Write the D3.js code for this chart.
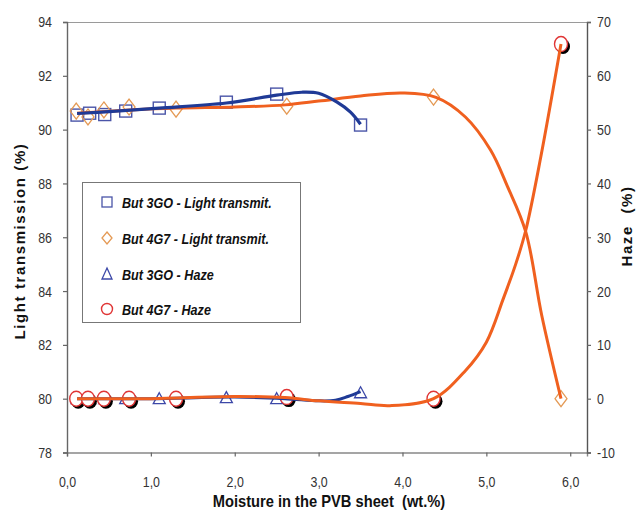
<!DOCTYPE html>
<html><head><meta charset="utf-8">
<script src="https://cdn.jsdelivr.net/npm/d3@7"></script>
<style>
html,body{margin:0;padding:0;background:#fff;}
svg{display:block;}
</style></head>
<body><svg id="c" width="637" height="515"></svg>
<script>
// ---- data ----
const moisture3GO = [0.12, 0.27, 0.45, 0.70, 1.10, 1.90, 2.50, 3.50];
const lt3GO       = [90.54, 90.61, 90.56, 90.69, 90.80, 91.02, 91.32, 90.17];
const haze3GO     = [0, 0, 0, 0, 0, 0.2, 0, 1.1];
const moisture4G7 = [0.11, 0.25, 0.44, 0.74, 1.30, 2.62, 4.37, 5.89];
const lt4G7       = [90.69, 90.47, 90.73, 90.84, 90.76, 90.87, 91.21, 80.0];
const haze4G7     = [0, 0, 0, 0, 0, 0.3, 0, 65.9];

// trend curves
const trendLt3GOx = [0.12, 0.5, 1.1, 1.9, 2.5, 2.8, 3.0, 3.22, 3.38, 3.5];
const trendLt3GOy = [90.6, 90.67, 90.8, 90.99, 91.28, 91.39, 91.35, 91.02, 90.65, 90.2];
const trendLt4G7x = [0.12, 0.7, 1.3, 2.0, 2.6, 3.0, 3.5, 4.0, 4.4, 4.75, 5.05, 5.25, 5.47, 5.66, 5.89];
const trendLt4G7y = [90.61, 90.72, 90.8, 90.84, 90.92, 91.06, 91.25, 91.36, 91.2, 90.47, 89.24, 87.9, 86.2, 83.1, 80.0];
const trendHaze3GOx = [0.12, 1.0, 2.0, 2.6, 3.0, 3.2, 3.35, 3.5];
const trendHaze3GOy = [0, 0, 0.3, 0, -0.4, -0.3, 0.4, 1.3];
const trendHaze4G7x = [0.12, 1.0, 2.0, 2.6, 3.0, 3.5, 3.85, 4.37, 4.75, 5.0, 5.2, 5.35, 5.47, 5.65, 5.89];
const trendHaze4G7y = [0, 0, 0.4, 0.2, -0.4, -0.9, -1.3, 0, 5.2, 10.5, 18.5, 25, 31.3, 45, 65.9];

const xTicks = [0, 1, 2, 3, 4, 5, 6];
const xTickLabels = ["0,0", "1,0", "2,0", "3,0", "4,0", "5,0", "6,0"];
const yLeftTicks = [78, 80, 82, 84, 86, 88, 90, 92, 94];
const yRightTicks = [-10, 0, 10, 20, 30, 40, 50, 60, 70];
const legendLabels = ["But 3GO - Light transmit.", "But 4G7 - Light transmit.", "But 3GO - Haze", "But 4G7 - Haze"];
const xTitle = "Moisture in the PVB sheet  (wt.%)";
const yLeftTitle = "Light transmission (%)";
const yRightTitle = "Haze  (%)";

// ---- layout ----
const L = 67, R = 587, T = 22, B = 452.5;
const svg = d3.select("#c");
const x = d3.scaleLinear().domain([0, 6.2]).range([L, R]);
const yL = d3.scaleLinear().domain([78, 94]).range([B, T]);
const yR = d3.scaleLinear().domain([-10, 70]).range([B, T]);

const BLUE = "#1f3a96", ORANGE = "#f0601f";
const SQ = "#4a55a8", DIA = "#e49a55", TRI = "#3c48a8", CIR = "#e03535";
const font = "'Liberation Sans',Arial,sans-serif";
function squeeze(sel, f) {
  sel.each(function () {
    const w = this.getComputedTextLength();
    d3.select(this).attr("textLength", w * f).attr("lengthAdjust", "spacingAndGlyphs");
  });
}

// frame top
svg.append("line").attr("x1", L).attr("x2", R).attr("y1", T + .5).attr("y2", T + .5)
  .attr("stroke", "#9a9a9a").attr("stroke-width", 1.2);

// axes
const gx = svg.append("g").attr("transform", `translate(0,${B})`)
  .call(d3.axisBottom(x).tickValues(xTicks).tickFormat((d, i) => xTickLabels[i]).tickSizeOuter(0).tickSize(4).tickPadding(19));
const gl = svg.append("g").attr("transform", `translate(${L},0)`)
  .call(d3.axisLeft(yL).tickValues(yLeftTicks).tickFormat(d => d).tickSizeOuter(0).tickSize(4).tickPadding(11));
const gr = svg.append("g").attr("transform", `translate(${R},0)`)
  .call(d3.axisRight(yR).tickValues(yRightTicks).tickFormat(d => d).tickSizeOuter(0).tickSize(4).tickPadding(6));
[gx, gl, gr].forEach(g => {
  g.select(".domain").attr("stroke", "#666").attr("stroke-width", 1.4);
  g.selectAll(".tick line").attr("stroke", "#666").attr("stroke-width", 1.2);
  g.selectAll("text").attr("font-family", font).attr("font-size", 15.5).attr("fill", "#333");
  squeeze(g.selectAll("text"), 0.8);
});
gx.select(".domain").attr("stroke", "#888");
gr.select(".domain").attr("stroke", "#555");

// titles
const xt = svg.append("text").attr("x", 329).attr("y", 507).attr("text-anchor", "middle")
  .attr("font-family", font).attr("font-weight", "bold").attr("font-size", 16.5).attr("fill", "#111")
  .style("white-space", "pre").text(xTitle);
squeeze(xt, 0.89);
svg.append("text").attr("transform", "translate(25,241) rotate(-90)").attr("text-anchor", "middle")
  .attr("font-family", font).attr("font-weight", "bold").attr("font-size", 15)
  .attr("letter-spacing", 1.6).attr("fill", "#111").text(yLeftTitle);
svg.append("text").attr("transform", "translate(632,226) rotate(-90)").attr("text-anchor", "middle")
  .attr("font-family", font).attr("font-weight", "bold").attr("font-size", 15)
  .attr("letter-spacing", 1.6).attr("fill", "#111").style("white-space", "pre").text(yRightTitle);

// marker shapes
const diamondPath = "M0,-8L6,0L0,8L-6,0Z";
const triPath = "M0,-6L6,5L-6,5Z";

// markers
const marks = svg.append("g");
marks.selectAll(".sq").data(moisture3GO).join("rect")
  .attr("x", d => x(d) - 6).attr("y", (d, i) => yL(lt3GO[i]) - 6).attr("width", 12).attr("height", 12)
  .attr("fill", "none").attr("stroke", SQ).attr("stroke-width", 1.4);
marks.selectAll(".dia").data(moisture4G7).join("path")
  .attr("transform", (d, i) => `translate(${x(d)},${yL(lt4G7[i])})`).attr("d", diamondPath)
  .attr("fill", "none").attr("stroke", DIA).attr("stroke-width", 1.3);
marks.selectAll(".tri").data(moisture3GO).join("path")
  .attr("transform", (d, i) => `translate(${x(d)},${yR(haze3GO[i])})`).attr("d", triPath)
  .attr("fill", "none").attr("stroke", TRI).attr("stroke-width", 1.3);
const cg = marks.append("g");
moisture4G7.forEach((d, i) => {
  const cx = x(d), cy = yR(haze4G7[i]);
  cg.append("ellipse").attr("cx", cx + 2).attr("cy", cy + 2.5).attr("rx", 7).attr("ry", 7.5).attr("fill", "#000");
  cg.append("ellipse").attr("cx", cx).attr("cy", cy).attr("rx", 6.5).attr("ry", 7.5)
    .attr("fill", "#fff").attr("stroke", CIR).attr("stroke-width", 1.4);
});

// trend lines
const line = (xs, ys, ys2) => d3.line().curve(d3.curveCatmullRom.alpha(0.5))
  .x((d, i) => x(xs[i])).y((d, i) => ys2(ys[i]))(xs);
svg.append("path").attr("d", line(trendHaze3GOx, trendHaze3GOy, yR)).attr("fill", "none").attr("stroke", BLUE).attr("stroke-width", 3);
svg.append("path").attr("d", line(trendHaze4G7x, trendHaze4G7y, yR)).attr("fill", "none").attr("stroke", ORANGE).attr("stroke-width", 3);
svg.append("path").attr("d", line(trendLt4G7x, trendLt4G7y, yL)).attr("fill", "none").attr("stroke", ORANGE).attr("stroke-width", 3);
svg.append("path").attr("d", line(trendLt3GOx, trendLt3GOy, yL)).attr("fill", "none").attr("stroke", BLUE).attr("stroke-width", 3.2);

// legend
const lg = svg.append("g");
lg.append("rect").attr("x", 82.5).attr("y", 182.5).attr("width", 218).attr("height", 140)
  .attr("fill", "#fff").attr("stroke", "#777").attr("stroke-width", 1);
const rowsY = [202, 238, 274, 309];
const legendDraw = [
  g => g.append("rect").attr("x", -5).attr("y", -5).attr("width", 10).attr("height", 10).attr("fill", "none").attr("stroke", SQ).attr("stroke-width", 1.3),
  g => g.append("path").attr("d", "M0,-6L5,0L0,6L-5,0Z").attr("fill", "none").attr("stroke", DIA).attr("stroke-width", 1.3),
  g => g.append("path").attr("d", "M0,-6L5,5L-5,5Z").attr("fill", "none").attr("stroke", TRI).attr("stroke-width", 1.3),
  g => g.append("circle").attr("r", 5.5).attr("fill", "none").attr("stroke", CIR).attr("stroke-width", 1.4)
];
legendLabels.forEach((t, i) => {
  const g = lg.append("g").attr("transform", `translate(107,${rowsY[i]})`);
  legendDraw[i](g);
  const tx = lg.append("text").attr("x", 122).attr("y", rowsY[i] + 5.5)
    .attr("font-family", font).attr("font-weight", "bold").attr("font-style", "italic")
    .attr("font-size", 15).attr("fill", "#111").text(t);
  squeeze(tx, 0.84);
});
</script></body></html>
